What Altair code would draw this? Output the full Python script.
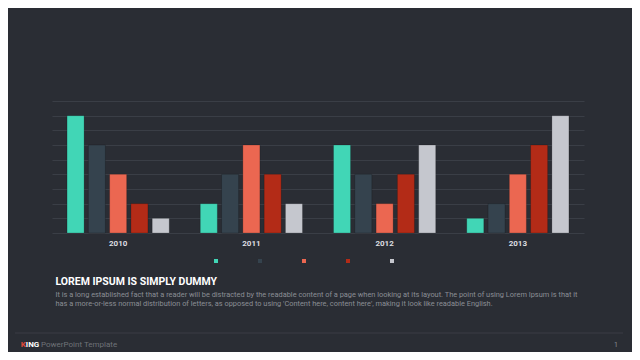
import altair as alt
import pandas as pd

years = ["2010", "2011", "2012", "2013"]
series = ["Series 1", "Series 2", "Series 3", "Series 4", "Series 5"]
s1 = [8, 2, 6, 1]
s2 = [6, 4, 4, 2]
s3 = [4, 6, 2, 4]
s4 = [2, 4, 4, 6]
s5 = [1, 2, 6, 8]
colors = ["#41d6b6", "#35434e", "#eb6751", "#b32b17", "#c5c7ce"]

title_text = "LOREM IPSUM IS SIMPLY DUMMY"
body_lines = [
    "It is a long established fact that a reader will be distracted by the readable content of a page when looking at its layout. The point of using Lorem Ipsum is that it",
    "has a more-or-less normal distribution of letters, as opposed to using 'Content here, content here', making it look like readable English.",
]
footer_brand_first = "K"
footer_brand_rest = "ING"
footer_text = "PowerPoint Template"
page_number = "1"

rows = []
for name, vals in zip(series, [s1, s2, s3, s4, s5]):
    for y, v in zip(years, vals):
        rows.append({"year": y, "series": name, "value": v})
df = pd.DataFrame(rows)

BG = "#2a2d34"
FONT = "Roboto"

bars = alt.Chart(df).mark_bar(stroke="#000000", strokeOpacity=0.18, strokeWidth=1).encode(
    x=alt.X("year:N", sort=years, title=None,
            scale=alt.Scale(paddingInner=0.233, paddingOuter=0.113),
            axis=alt.Axis(labelAngle=0, ticks=False, domain=False, grid=False,
                          labelFont=FONT, labelFontSize=8, labelFontWeight="bold",
                          labelColor="#dedfe2", labelPadding=6)),
    xOffset=alt.XOffset("series:N", sort=series,
                        scale=alt.Scale(paddingInner=0.2, paddingOuter=0)),
    y=alt.Y("value:Q", title=None, scale=alt.Scale(domain=[0, 9], nice=False),
            axis=alt.Axis(values=list(range(0, 10)), labels=False, ticks=False,
                          domain=False, grid=True, gridColor="#3a3e46", gridWidth=1)),
    color=alt.Color("series:N", sort=series,
                    scale=alt.Scale(domain=series, range=colors),
                    legend=alt.Legend(orient="none", legendX=159, legendY=155,
                                      direction="horizontal", title=None,
                                      labelExpr="''", symbolType="square",
                                      symbolSize=16, symbolStrokeWidth=0,
                                      labelOffset=0, columnPadding=34,
                                      padding=0)),
)

one = alt.Data(values=[{"k": 1}])

def txt(text, x, y, size, color, weight="normal", align="left"):
    return alt.Chart(one).mark_text(
        align=align, baseline="alphabetic", font=FONT, fontSize=size,
        fontWeight=weight, color=color
    ).encode(x=alt.value(x), y=alt.value(y), text=alt.value(text))

title = txt(title_text, 3.5, 184, 10.5, "#ffffff", "bold")
body1 = txt(body_lines[0], 3.5, 196, 7.4, "#8b8e94")
body2 = txt(body_lines[1], 3.5, 204.5, 7.4, "#8b8e94")

footer_rule = alt.Chart(one).mark_rule(color="#3a3d45", strokeWidth=1).encode(
    x=alt.value(-37), x2=alt.value(571), y=alt.value(232))

brand1 = txt(footer_brand_first, -31.3, 245.5, 8, "#e04a3a", "bold")
brand2 = txt(footer_brand_rest, -26.2, 245.5, 8, "#ffffff", "bold")
foot = txt(footer_text, -11, 245.5, 8, "#6f7278")
pnum = txt(page_number, 564, 245.5, 7, "#8b8e94", align="center")

chart = alt.layer(bars, title, body1, body2, footer_rule, brand1, brand2, foot, pnum).properties(
    width=532, height=132,
    autosize=alt.AutoSizeParams(type="none"),
    padding={"left": 44, "top": 93, "right": 48, "bottom": 119},
    background=BG,
).configure_view(stroke=None)

chart.save("out.html", embed_options={"renderer": "svg", "actions": False})
